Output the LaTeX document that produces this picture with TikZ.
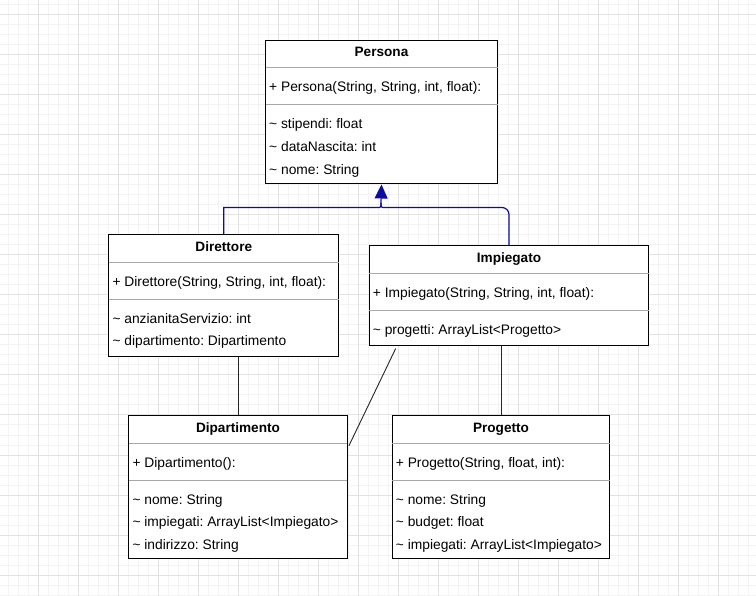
\documentclass[tikz,border=0pt]{standalone}
\usepackage{fontspec}
\setmainfont{Liberation Sans}
\usetikzlibrary{arrows.meta}
\definecolor{gridmajor}{HTML}{E2E2E2}
\definecolor{gridminor}{HTML}{F3F3F3}
\definecolor{inheritblue}{HTML}{0C0CA0}
\definecolor{septone}{HTML}{A8A8A8}
\tikzset{
  classbox/.style={draw=black, line width=1pt, fill=white, anchor=north west, inner sep=0pt},
  head/.style={anchor=base, inner sep=0pt, font=\fontsize{13.6}{16}\selectfont\bfseries},
  member/.style={anchor=base west, inner sep=0pt},
  sepline/.style={draw=septone, line width=1pt, shorten <=0.5pt, shorten >=0.5pt},
  inherit/.style={draw=inheritblue, line width=1.2pt},
  assoc/.style={draw=black!85, line width=0.9pt}
}
\frenchspacing
\begin{document}
\begin{tikzpicture}[x=1pt, y=-1pt, font=\fontsize{13.8}{16}\selectfont]
  \useasboundingbox (0,0) rectangle (756,596);
  \fill[white] (0,0) rectangle (756,596);
  % background grid
  \foreach \x in {0,...,74} \draw[gridminor, line width=1pt] ({8.3+10*\x},0) -- ++(0,596);
  \foreach \y in {0,...,59} \draw[gridminor, line width=1pt] (0,{5+10*\y}) -- ++(756,0);
  \foreach \x in {0,...,18} \draw[gridmajor, line width=1pt] ({38.3+40*\x},0) -- ++(0,596);
  \foreach \y in {0,...,14} \draw[gridmajor, line width=1pt] (0,{15+40*\y}) -- ++(756,0);

  % Persona
  \node[classbox, minimum width=232pt, minimum height=143pt] (persona) at (265,40) {};
  \node[head] at ([yshift=-17pt]persona.north) {Persona};
  \draw[sepline] ([yshift=-28pt]persona.north west) -- ([yshift=-28pt]persona.north east);
  \node[member] at ([xshift=4pt,yshift=-52pt]persona.north west) {+ Persona(String, String, int, float):};
  \draw[sepline] ([yshift=-65pt]persona.north west) -- ([yshift=-65pt]persona.north east);
  \foreach \attr [count=\i from 0] in {stipendi: float, dataNascita: int, nome: String}
    \node[member] at ([xshift=4pt,yshift={-89pt-22.6pt*\i}]persona.north west) {\textasciitilde{} \attr};

  % Direttore
  \node[classbox, minimum width=230pt, minimum height=122pt] (direttore) at (108.3,234.3) {};
  \node[head] at ([yshift=-17pt]direttore.north) {Direttore};
  \draw[sepline] ([yshift=-28pt]direttore.north west) -- ([yshift=-28pt]direttore.north east);
  \node[member] at ([xshift=4pt,yshift=-52pt]direttore.north west) {+ Direttore(String, String, int, float):};
  \draw[sepline] ([yshift=-65pt]direttore.north west) -- ([yshift=-65pt]direttore.north east);
  \foreach \attr [count=\i from 0] in {anzianitaServizio: int, dipartimento: Dipartimento}
    \node[member] at ([xshift=4pt,yshift={-89pt-22.6pt*\i}]direttore.north west) {\textasciitilde{} \attr};

  % Impiegato
  \node[classbox, minimum width=279.6pt, minimum height=99.7pt] (impiegato) at (368.7,245.3) {};
  \node[head] at ([yshift=-17pt]impiegato.north) {Impiegato};
  \draw[sepline] ([yshift=-28pt]impiegato.north west) -- ([yshift=-28pt]impiegato.north east);
  \node[member] at ([xshift=4pt,yshift=-52pt]impiegato.north west) {+ Impiegato(String, String, int, float):};
  \draw[sepline] ([yshift=-65pt]impiegato.north west) -- ([yshift=-65pt]impiegato.north east);
  \node[member] at ([xshift=4pt,yshift=-89pt]impiegato.north west) {\textasciitilde{} progetti: ArrayList<Progetto>};

  % Dipartimento
  \node[classbox, minimum width=218.4pt, minimum height=143pt] (dipartimento) at (128.3,415.3) {};
  \node[head] at ([yshift=-17pt]dipartimento.north) {Dipartimento};
  \draw[sepline] ([yshift=-28pt]dipartimento.north west) -- ([yshift=-28pt]dipartimento.north east);
  \node[member] at ([xshift=4pt,yshift=-52pt]dipartimento.north west) {+ Dipartimento():};
  \draw[sepline] ([yshift=-65pt]dipartimento.north west) -- ([yshift=-65pt]dipartimento.north east);
  \foreach \attr [count=\i from 0] in {nome: String, impiegati: ArrayList<Impiegato>, indirizzo: String}
    \node[member] at ([xshift=4pt,yshift={-89pt-22.6pt*\i}]dipartimento.north west) {\textasciitilde{} \attr};

  % Progetto
  \node[classbox, minimum width=217.6pt, minimum height=143pt] (progetto) at (391.7,415.3) {};
  \node[head] at ([yshift=-17pt]progetto.north) {Progetto};
  \draw[sepline] ([yshift=-28pt]progetto.north west) -- ([yshift=-28pt]progetto.north east);
  \node[member] at ([xshift=4pt,yshift=-52pt]progetto.north west) {+ Progetto(String, float, int):};
  \draw[sepline] ([yshift=-65pt]progetto.north west) -- ([yshift=-65pt]progetto.north east);
  \foreach \attr [count=\i from 0] in {nome: String, budget: float, impiegati: ArrayList<Impiegato>}
    \node[member] at ([xshift=4pt,yshift={-89pt-22.6pt*\i}]progetto.north west) {\textasciitilde{} \attr};

  % inheritance
  \coordinate (merge) at (381,207.5);
  \coordinate (stem) at (381,203);
  \draw[inherit] (direttore.north) |- ([xshift=-4pt]merge) .. controls (merge) .. (stem);
  \draw[inherit, rounded corners=7pt] (impiegato.north) |- ([xshift=4pt]merge);
  \draw[inherit] ([xshift=4pt]merge) .. controls (merge) .. (stem);
  \draw[inherit, -{Triangle[width=13pt,length=14pt]}] (stem) -- ([yshift=-0.5pt]persona.south);

  % associations
  \draw[assoc] (dipartimento.north |- direttore.south) -- (dipartimento.north);
  \draw[assoc] (progetto.north |- impiegato.south) -- (progetto.north);
  \draw[assoc] ([shift={(27,2.5)}]impiegato.south west) -- ([shift={(1.2,30.5)}]dipartimento.north east);
\end{tikzpicture}
\end{document}
